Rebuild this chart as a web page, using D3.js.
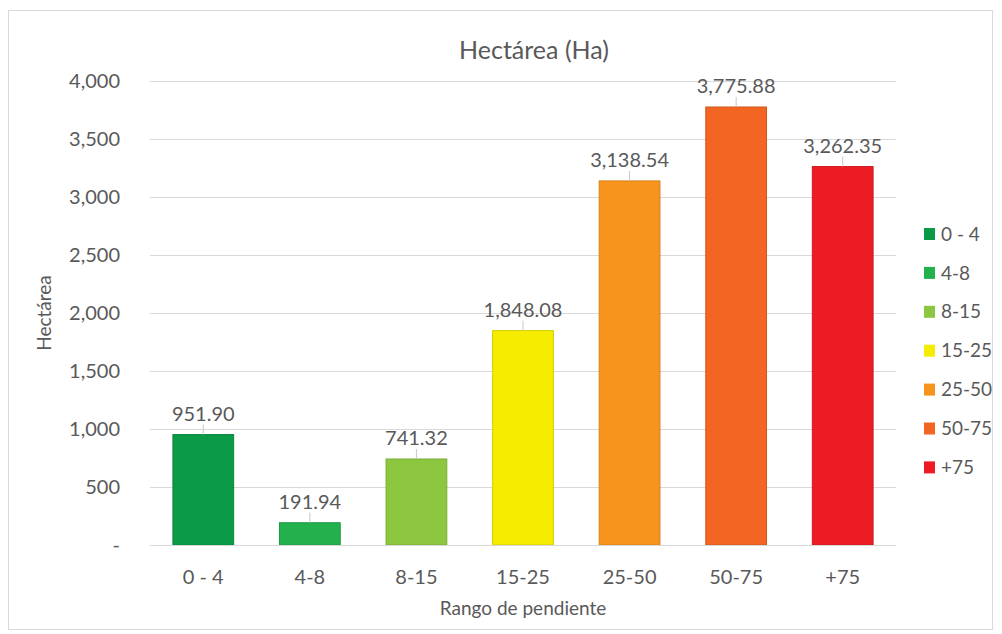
<!DOCTYPE html>
<html>
<head>
<meta charset="utf-8">
<script src="https://cdn.jsdelivr.net/npm/d3@7"></script>
<style>
  html, body { margin: 0; padding: 0; background: #ffffff; }
  svg { display: block; }
  text { font-family: Lato, "Open Sans", sans-serif; fill: #595959; }
</style>
</head>
<body>
<svg id="chart" width="1002" height="634"></svg>
<script>
// Superficie por rango de pendiente
const categories = ["0 - 4", "4-8", "8-15", "15-25", "25-50", "50-75", "+75"];
const values = [951.90, 191.94, 741.32, 1848.08, 3138.54, 3775.88, 3262.35];
const colors = ["#0a9a48", "#22b14c", "#8dc63f", "#f5ec00", "#f7941d", "#f26522", "#ed1c24"];
const yTicks = [0, 500, 1000, 1500, 2000, 2500, 3000, 3500, 4000];

const svg = d3.select("#chart");
const plot = { left: 150, right: 896, top: 81, bottom: 545 };
const FONT = "Lato, 'Open Sans', sans-serif";

// frame
svg.append("rect")
  .attr("x", 8.5).attr("y", 10.5)
  .attr("width", 984).attr("height", 619)
  .attr("fill", "#ffffff")
  .attr("stroke", "#d9d9d9").attr("stroke-width", 1);

const x = d3.scaleBand()
  .domain(categories)
  .range([plot.left, plot.right])
  .paddingInner(0.43)
  .paddingOuter(0.215);

const y = d3.scaleLinear()
  .domain([0, 4000])
  .range([plot.bottom, plot.top]);

const fmtTick = d => d === 0 ? "-" : d3.format(",")(d);
const fmtVal = d3.format(",.2f");

// gridlines + y tick labels
const yAxis = d3.axisLeft(y).tickValues(yTicks).tickSize(-(plot.right - plot.left)).tickFormat(fmtTick).tickPadding(30);
const gy = svg.append("g").attr("transform", `translate(${plot.left},0)`).call(yAxis);
gy.select(".domain").remove();
gy.selectAll(".tick line").attr("stroke", "#d9d9d9").attr("stroke-width", 1);
gy.selectAll(".tick text").attr("font-size", 20).attr("fill", "#595959").style("font-family", FONT);

// bars
svg.append("g").selectAll("rect")
  .data(values)
  .join("rect")
  .attr("x", (d, i) => x(categories[i]))
  .attr("y", d => y(d))
  .attr("width", x.bandwidth())
  .attr("height", d => y(0) - y(d))
  .attr("fill", (d, i) => colors[i])
  .attr("stroke", (d, i) => d3.color(colors[i]).darker(0.4))
  .attr("stroke-width", 1);

// baseline
svg.append("line")
  .attr("x1", plot.left).attr("x2", plot.right)
  .attr("y1", y(0) + 0.5).attr("y2", y(0) + 0.5)
  .attr("stroke", "#d9d9d9");

// leader lines from labels to bars
svg.append("g").selectAll("line")
  .data(values)
  .join("line")
  .attr("x1", (d, i) => x(categories[i]) + x.bandwidth() / 2)
  .attr("x2", (d, i) => x(categories[i]) + x.bandwidth() / 2)
  .attr("y1", d => y(d) - 10)
  .attr("y2", d => y(d))
  .attr("stroke", "#c8c8c8").attr("stroke-width", 1);

// value labels
svg.append("g").selectAll("text")
  .data(values)
  .join("text")
  .attr("x", (d, i) => x(categories[i]) + x.bandwidth() / 2)
  .attr("y", d => y(d) - 14)
  .attr("text-anchor", "middle")
  .attr("font-size", 20)
  .attr("fill", "#404040")
  .text(d => fmtVal(d));

// x axis labels
const gx = svg.append("g").attr("transform", `translate(0,${plot.bottom})`)
  .call(d3.axisBottom(x).tickSize(0).tickPadding(25));
gx.select(".domain").remove();
gx.selectAll(".tick text").attr("font-size", 20).attr("fill", "#595959").style("font-family", FONT);

// titles
svg.append("text")
  .attr("x", 534).attr("y", 59)
  .attr("text-anchor", "middle")
  .attr("font-size", 25)
  .text("Hectárea (Ha)");

svg.append("text")
  .attr("x", 523).attr("y", 615)
  .attr("text-anchor", "middle")
  .attr("font-size", 19)
  .text("Rango de pendiente");

svg.append("text")
  .attr("transform", `translate(51,${(plot.top + plot.bottom) / 2}) rotate(-90)`)
  .attr("text-anchor", "middle")
  .attr("font-size", 19)
  .text("Hectárea");

// legend
const legend = svg.append("g").attr("transform", "translate(924,234)");
const rows = legend.selectAll("g")
  .data(categories)
  .join("g")
  .attr("transform", (d, i) => `translate(0,${i * 38.9})`);
rows.append("rect")
  .attr("x", 0).attr("y", -6)
  .attr("width", 11).attr("height", 12)
  .attr("fill", (d, i) => colors[i]);
rows.append("text")
  .attr("x", 17).attr("y", 0)
  .attr("dy", "0.35em")
  .attr("font-size", 19)
  .text(d => d);
</script>
</body>
</html>
